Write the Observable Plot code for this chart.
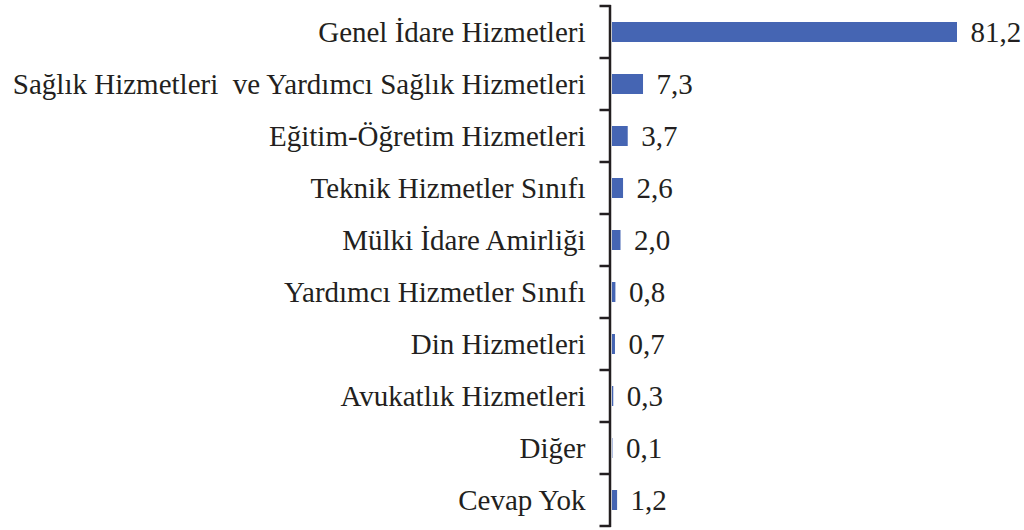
<!DOCTYPE html>
<html>
<head>
<meta charset="utf-8">
<script src="https://cdn.jsdelivr.net/npm/d3@7"></script>
<script src="https://cdn.jsdelivr.net/npm/@observablehq/plot@0.6"></script>
<style>
  html, body { margin: 0; padding: 0; background: #fff; }
  svg { display: block; }
</style>
</head>
<body>
<div id="chart"></div>
<script>
const categories = [
  "Genel İdare Hizmetleri",
  "Sağlık Hizmetleri  ve Yardımcı Sağlık Hizmetleri",
  "Eğitim-Öğretim Hizmetleri",
  "Teknik Hizmetler Sınıfı",
  "Mülki İdare Amirliği",
  "Yardımcı Hizmetler Sınıfı",
  "Din Hizmetleri",
  "Avukatlık Hizmetleri",
  "Diğer",
  "Cevap Yok"
];
const values = [81.2, 7.3, 3.7, 2.6, 2.0, 0.8, 0.7, 0.3, 0.1, 1.2];

const data = categories.map((c, i) => ({category: c, value: values[i]}));
const fmt = v => d3.format(".1f")(v).replace(".", ",");
const font = "'Liberation Serif', 'Times New Roman', serif";
const ink = "#231f20";

const chart = Plot.plot({
  width: 1024,
  height: 530,
  marginLeft: 612,
  marginRight: 67,
  marginTop: 5,
  marginBottom: 3,
  style: {fontFamily: font, fontSize: "29px", color: ink, background: "#fff"},
  x: {domain: [0, 81.2], axis: null},
  y: {domain: categories, paddingInner: 0.61, paddingOuter: 0.305, label: null},
  marks: [
    Plot.barX(data, {x: "value", y: "category", fill: "#4565b3"}),
    Plot.text(data, {x: "value", y: "category", text: d => fmt(d.value), textAnchor: "start", dx: 13, fontSize: 29, fill: ink}),
    Plot.axisY({tickSize: 0, tickPadding: 27, fontSize: 29, fill: ink, label: null}),
    Plot.ruleX([0], {stroke: ink, strokeWidth: 2.5, dx: -2.5})
  ]
});

// Boundary tick marks between categories, derived from the band scale
const ys = chart.scale("y");
const half = ys.step / 2;
const bounds = categories.map(c => ys.apply(c) + ys.bandwidth / 2 - half);
bounds.push(ys.apply(categories[categories.length - 1]) + ys.bandwidth / 2 + half);
const x0 = chart.scale("x").apply(0) - 2.5;
d3.select(chart).append("g")
  .selectAll("line").data(bounds).join("line")
  .attr("x1", x0 - 10).attr("x2", x0 + 1.25)
  .attr("y1", d => d).attr("y2", d => d)
  .attr("stroke", ink).attr("stroke-width", 2.5);

document.getElementById("chart").appendChild(chart);
</script>
</body>
</html>
